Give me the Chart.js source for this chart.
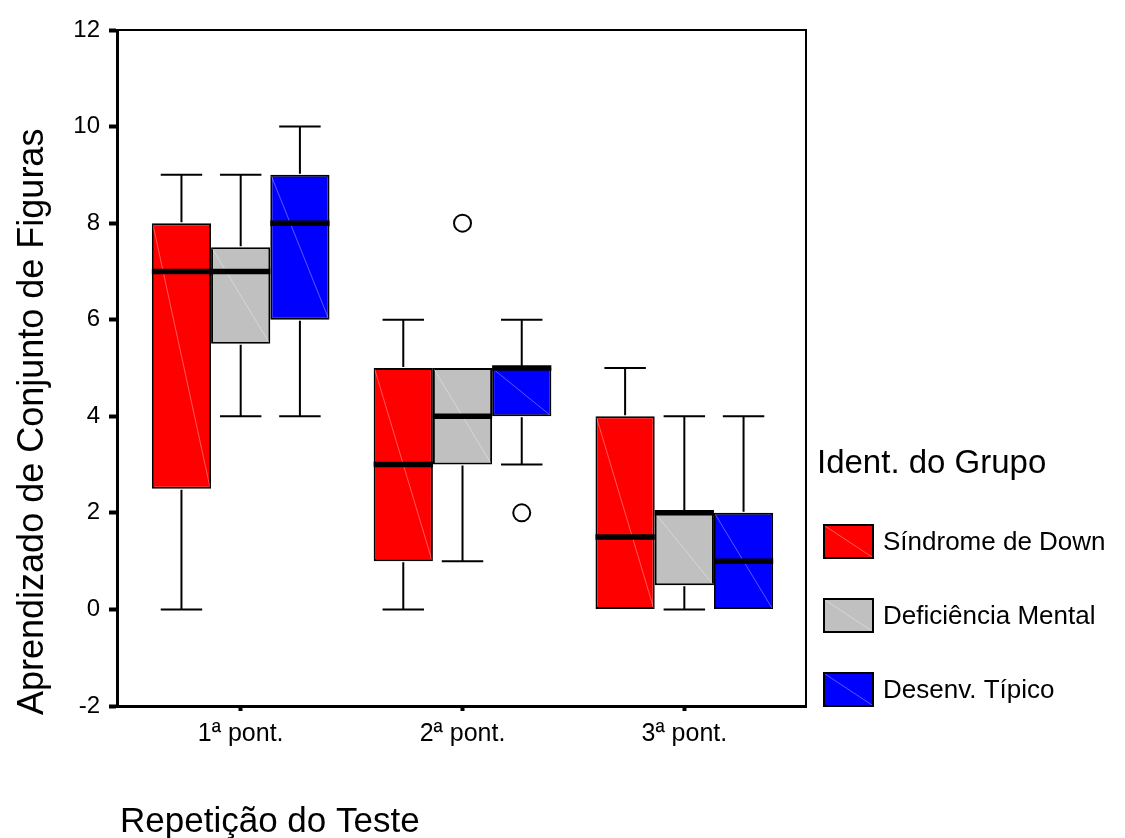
<!DOCTYPE html>
<html>
<head>
<meta charset="utf-8">
<script src="https://cdn.jsdelivr.net/npm/chart.js@4.4.1/dist/chart.umd.min.js"></script>
<style>
  html,body{margin:0;padding:0;background:#fff;}
  canvas{display:block;}
</style>
</head>
<body>
<canvas id="c" width="1125" height="838"></canvas>
<script>
// ---- Data ----
const categories = ['1ª pont.', '2ª pont.', '3ª pont.'];
const categoryPositions = [1, 2, 3];
const yTickValues = [-2, 0, 2, 4, 6, 8, 10, 12];
const groupLabels = ['Síndrome de Down', 'Deficiência Mental', 'Desenv. Típico'];
const groupColors = ['#FF0000', '#C0C0C0', '#0000FF'];

// Síndrome de Down
const sdMin = [0, 0, 0];
const sdQ1 = [2.5, 1, 0];
const sdMedian = [7, 3, 1.5];
const sdQ3 = [8, 5, 4];
const sdMax = [9, 6, 5];
const sdOutliers = [[], [], []];

// Deficiência Mental
const dmMin = [4, 1, 0];
const dmQ1 = [5.5, 3, 0.5];
const dmMedian = [7, 4, 2];
const dmQ3 = [7.5, 5, 2];
const dmMax = [9, 5, 4];
const dmOutliers = [[], [8], []];

// Desenv. Típico
const dtMin = [4, 3, 0];
const dtQ1 = [6, 4, 0];
const dtMedian = [8, 5, 1];
const dtQ3 = [9, 5, 2];
const dtMax = [10, 6, 4];
const dtOutliers = [[], [2], []];

const yTitle = 'Aprendizado de Conjunto de Figuras';
const xTitle = 'Repetição do Teste';
const legendTitle = 'Ident. do Grupo';

// ---- Build ----
const groups = [
  {min: sdMin, q1: sdQ1, med: sdMedian, q3: sdQ3, max: sdMax, out: sdOutliers},
  {min: dmMin, q1: dmQ1, med: dmMedian, q3: dmQ3, max: dmMax, out: dmOutliers},
  {min: dtMin, q1: dtQ1, med: dtMedian, q3: dtQ3, max: dtMax, out: dtOutliers}
];

const FONT = "'Liberation Sans', Arial, sans-serif";

const datasets = groups.map((g, gi) => ({
  label: groupLabels[gi],
  data: categoryPositions.map((x, i) => ({x: x, y: [g.q1[i], g.q3[i]]})),
  backgroundColor: groupColors[gi],
  borderColor: '#000',
  borderWidth: 2,
  borderSkipped: false,
  categoryPercentage: 0.801,
  barPercentage: 1.0
}));

const boxExtras = {
  id: 'boxExtras',
  afterDatasetsDraw(chart) {
    const ctx = chart.ctx;
    const ys = chart.scales.y;
    const ca = chart.chartArea;
    ctx.save();
    groups.forEach((g, gi) => {
      const meta = chart.getDatasetMeta(gi);
      meta.data.forEach((bar, i) => {
        const x = bar.x, w = bar.width;
        const left = x - w / 2, right = x + w / 2;
        const pQ1 = ys.getPixelForValue(g.q1[i]);
        const pQ3 = ys.getPixelForValue(g.q3[i]);
        const pMin = ys.getPixelForValue(g.min[i]);
        const pMax = ys.getPixelForValue(g.max[i]);
        const pMed = ys.getPixelForValue(g.med[i]);
        const cap = w * 0.7;
        // faint diagonal inside box
        ctx.save();
        ctx.beginPath();
        ctx.rect(left + 1, pQ3 + 1, w - 2, pQ1 - pQ3 - 2);
        ctx.clip();
        ctx.strokeStyle = 'rgba(255,255,255,0.35)';
        ctx.lineWidth = 1;
        ctx.beginPath();
        ctx.moveTo(left + 1, pQ3 + 1);
        ctx.lineTo(right - 1, pQ1 - 1);
        ctx.stroke();
        ctx.restore();
        // whiskers
        ctx.strokeStyle = '#000';
        ctx.lineWidth = 2;
        ctx.lineCap = 'butt';
        if (g.max[i] > g.q3[i]) {
          ctx.beginPath();
          ctx.moveTo(x, pQ3 - 1);
          ctx.lineTo(x, pMax);
          ctx.moveTo(x - cap / 2, pMax);
          ctx.lineTo(x + cap / 2, pMax);
          ctx.stroke();
        }
        if (g.min[i] < g.q1[i]) {
          ctx.beginPath();
          ctx.moveTo(x, pQ1 + 1);
          ctx.lineTo(x, pMin);
          ctx.moveTo(x - cap / 2, pMin);
          ctx.lineTo(x + cap / 2, pMin);
          ctx.stroke();
        }
        // median
        ctx.lineWidth = 5.5;
        ctx.beginPath();
        ctx.moveTo(left, pMed);
        ctx.lineTo(right, pMed);
        ctx.stroke();
        // outliers
        ctx.lineWidth = 2;
        g.out[i].forEach(v => {
          const py = ys.getPixelForValue(v);
          ctx.beginPath();
          ctx.arc(x, py, 8.5, 0, Math.PI * 2);
          ctx.fillStyle = '#fff';
          ctx.fill();
          ctx.stroke();
        });
      });
    });
    // frame top & right
    ctx.strokeStyle = '#000';
    ctx.lineWidth = 2;
    ctx.beginPath();
    ctx.moveTo(ca.left, ca.top);
    ctx.lineTo(ca.right, ca.top);
    ctx.lineTo(ca.right, ca.bottom);
    ctx.stroke();
    ctx.restore();
  },
  afterDraw(chart) {
    const ctx = chart.ctx;
    ctx.save();
    ctx.fillStyle = '#000';
    // y title
    ctx.save();
    ctx.translate(43, 715);
    ctx.rotate(-Math.PI / 2);
    ctx.font = '36px ' + FONT;
    ctx.textAlign = 'left';
    ctx.textBaseline = 'alphabetic';
    ctx.fillText(yTitle, 0, 0);
    ctx.restore();
    // x title
    ctx.font = '35px ' + FONT;
    ctx.textAlign = 'left';
    ctx.textBaseline = 'alphabetic';
    ctx.fillText(xTitle, 120, 832);
    // legend
    ctx.font = '33px ' + FONT;
    ctx.fillText(legendTitle, 817, 473);
    const boxTops = [525, 599, 673];
    groupLabels.forEach((lab, i) => {
      const bx = 824, by = boxTops[i], bw = 49, bh = 33;
      ctx.fillStyle = groupColors[i];
      ctx.fillRect(bx, by, bw, bh);
      ctx.save();
      ctx.strokeStyle = 'rgba(255,255,255,0.35)';
      ctx.lineWidth = 1;
      ctx.beginPath();
      ctx.moveTo(bx + 1, by + 1);
      ctx.lineTo(bx + bw - 1, by + bh - 1);
      ctx.stroke();
      ctx.restore();
      ctx.strokeStyle = '#000';
      ctx.lineWidth = 2;
      ctx.strokeRect(bx, by, bw, bh);
      ctx.fillStyle = '#000';
      ctx.font = '26px ' + FONT;
      ctx.textBaseline = 'middle';
      ctx.fillText(lab, 883, by + bh / 2 + 1);
      ctx.textBaseline = 'alphabetic';
    });
    ctx.restore();
  }
};

new Chart(document.getElementById('c'), {
  type: 'bar',
  data: {datasets: datasets},
  options: {
    responsive: false,
    animation: false,
    devicePixelRatio: 1,
    layout: {padding: {top: 30, right: 319, left: 0, bottom: 0}},
    plugins: {legend: {display: false}, tooltip: {enabled: false}},
    scales: {
      x: {
        type: 'linear',
        offset: false,
        min: 0.4424,
        max: 3.5485,
        afterBuildTicks: (s) => { s.ticks = categoryPositions.map(v => ({value: v})); },
        afterFit: (s) => { s.height = 132; },
        ticks: {
          callback: (v, idx) => categories[idx],
          color: '#000',
          font: {family: FONT, size: 25},
          padding: 8,
          autoSkip: false,
          maxRotation: 0
        },
        grid: {display: true, offset: false, drawOnChartArea: false, drawTicks: true, tickLength: 5, tickWidth: 4, tickColor: '#000'},
        border: {display: true, color: '#000', width: 3}
      },
      y: {
        type: 'linear',
        min: -2,
        max: 12,
        afterBuildTicks: (s) => { s.ticks = yTickValues.map(v => ({value: v})); },
        afterFit: (s) => { s.width = 117; },
        ticks: {
          color: '#000',
          font: {family: FONT, size: 24},
          padding: 9
        },
        grid: {display: true, drawOnChartArea: false, drawTicks: true, tickLength: 8, tickWidth: 4, tickColor: '#000'},
        border: {display: true, color: '#000', width: 3}
      }
    }
  },
  plugins: [boxExtras]
});
</script>
</body>
</html>
